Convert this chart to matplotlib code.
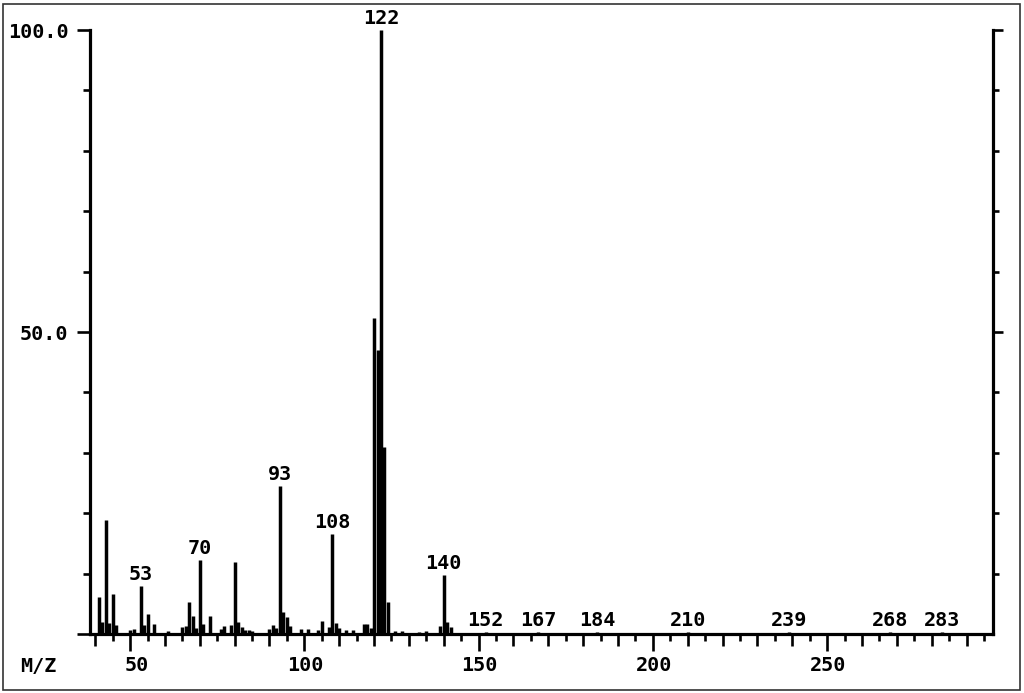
import matplotlib
matplotlib.use("Agg")
import matplotlib.pyplot as plt
from matplotlib.patches import Rectangle
from matplotlib.transforms import ScaledTranslation

# ---- data ----
mz = [41, 42, 43, 44, 45, 46, 50, 51, 53, 54, 55, 57, 61, 65, 66, 67, 68, 69,
      70, 71, 73, 76, 77, 79, 80, 81, 82, 83, 84, 85, 90, 91, 92, 93, 94, 95,
      96, 99, 101, 104, 105, 107, 108, 109, 110, 112, 114, 117, 118, 119, 120,
      121, 122, 123, 124, 126, 128, 133, 135, 139, 140, 141, 142,
      152, 167, 184, 210, 239, 268, 283]
intensity = [6.2, 2.0, 18.8, 1.9, 6.6, 1.5, 0.6, 0.8, 7.9, 1.5, 3.3, 1.7, 0.5,
             1.2, 1.4, 5.3, 3.0, 1.0, 12.3, 1.6, 3.0, 0.8, 1.3, 1.5, 12.0, 2.0,
             1.2, 0.7, 0.6, 0.5, 0.8, 1.5, 1.0, 24.5, 3.6, 2.8, 1.3, 0.9, 0.9,
             0.7, 2.1, 1.2, 16.5, 1.8, 1.0, 0.6, 0.7, 1.6, 1.7, 1.0, 52.3, 47.0,
             100.0, 31.0, 5.3, 0.5, 0.5, 0.4, 0.5, 1.4, 9.8, 2.0, 1.2,
             0.4, 0.4, 0.4, 0.4, 0.4, 0.4, 0.4]
labeled_peaks = [53, 70, 93, 108, 122, 140, 152, 167, 184, 210, 239, 268, 283]
x_tick_values = [50, 100, 150, 200, 250]
x_tick_labels = ["50", "100", "150", "200", "250"]
y_tick_values = [0, 50, 100]
y_tick_labels = ["", "50.0", "100.0"]
x_label = "M/Z"

FONT = dict(family="DejaVu Sans Mono", weight="bold", size=14.5)
W, H = 1024, 693

fig = plt.figure(figsize=(W / 100, H / 100), dpi=100)
fig.patch.set_facecolor("white")
left, right, top, bottom = 90, 993, 30, 634
ax = fig.add_axes([left / W, 1 - bottom / H, (right - left) / W, (bottom - top) / H])
xmin, xmax = 38.5, 297.6
ax.set_xlim(xmin, xmax)
ax.set_ylim(0, 100)

# peaks
ax.vlines(mz, 0, intensity, colors="black", linewidth=2.5, clip_on=False)

# peak labels
lookup = dict(zip(mz, intensity))
for m in labeled_peaks:
    ax.annotate(str(m), (m, lookup[m]), xytext=(0, 1.5), textcoords="offset points",
                ha="center", va="bottom", annotation_clip=False, **FONT)

# spines
for s in ["left", "right", "bottom"]:
    ax.spines[s].set_linewidth(2.3)
ax.spines["top"].set_visible(False)

# x ticks
ax.set_xticks(x_tick_values)
ax.set_xticklabels(x_tick_labels, fontfamily=FONT["family"], fontweight="bold", fontsize=14.5)
ax.set_xticks([v for v in range(40, 296, 5) if v % 10 != 0], minor=True)
ax.tick_params(axis="x", which="major", direction="out", length=12, width=1.9, pad=4)
ax.tick_params(axis="x", which="minor", direction="out", length=5, width=1.9)
off = ScaledTranslation(0.19, 0, fig.dpi_scale_trans)
for lab in ax.get_xticklabels():
    lab.set_ha("right")
    lab.set_transform(lab.get_transform() + off)

ax3 = ax.twiny()
ax3.set_xlim(xmin, xmax)
ax3.xaxis.tick_bottom()
ax3.set_xticks([v for v in range(40, 296, 10) if v % 50 != 0])
ax3.tick_params(axis="x", direction="out", length=8.5, width=1.9, labelbottom=False, labeltop=False, top=False)
for s in ax3.spines.values():
    s.set_visible(False)
ax3.set_yticks([])

# left y ticks
ax.set_yticks(y_tick_values)
ax.set_yticklabels(y_tick_labels, fontfamily=FONT["family"], fontweight="bold", fontsize=14.5)
ax.set_yticks(list(range(0, 101, 10)), minor=True)
ax.tick_params(axis="y", which="major", direction="out", length=9.5, width=1.9, pad=6)
ax.tick_params(axis="y", which="minor", direction="out", length=5, width=1.9)

# right y ticks
ax2 = ax.twinx()
ax2.set_ylim(0, 100)
ax2.set_yticks([50, 100])
ax2.set_yticks(list(range(10, 100, 10)), minor=True)
ax2.tick_params(axis="y", which="major", direction="out", length=7, width=1.9, labelright=False)
ax2.tick_params(axis="y", which="minor", direction="out", length=4, width=1.9)
for s in ax2.spines.values():
    s.set_visible(False)

# axis name
fig.text(20 / W, 1 - 666 / H, x_label, ha="left", va="center", **FONT)

# outer frame
fig.patches.append(Rectangle((3 / W, 3 / H), 1017 / W, 686 / H, transform=fig.transFigure,
                             fill=False, edgecolor="#333333", linewidth=1.2))

fig.savefig("out.png", dpi=100)
